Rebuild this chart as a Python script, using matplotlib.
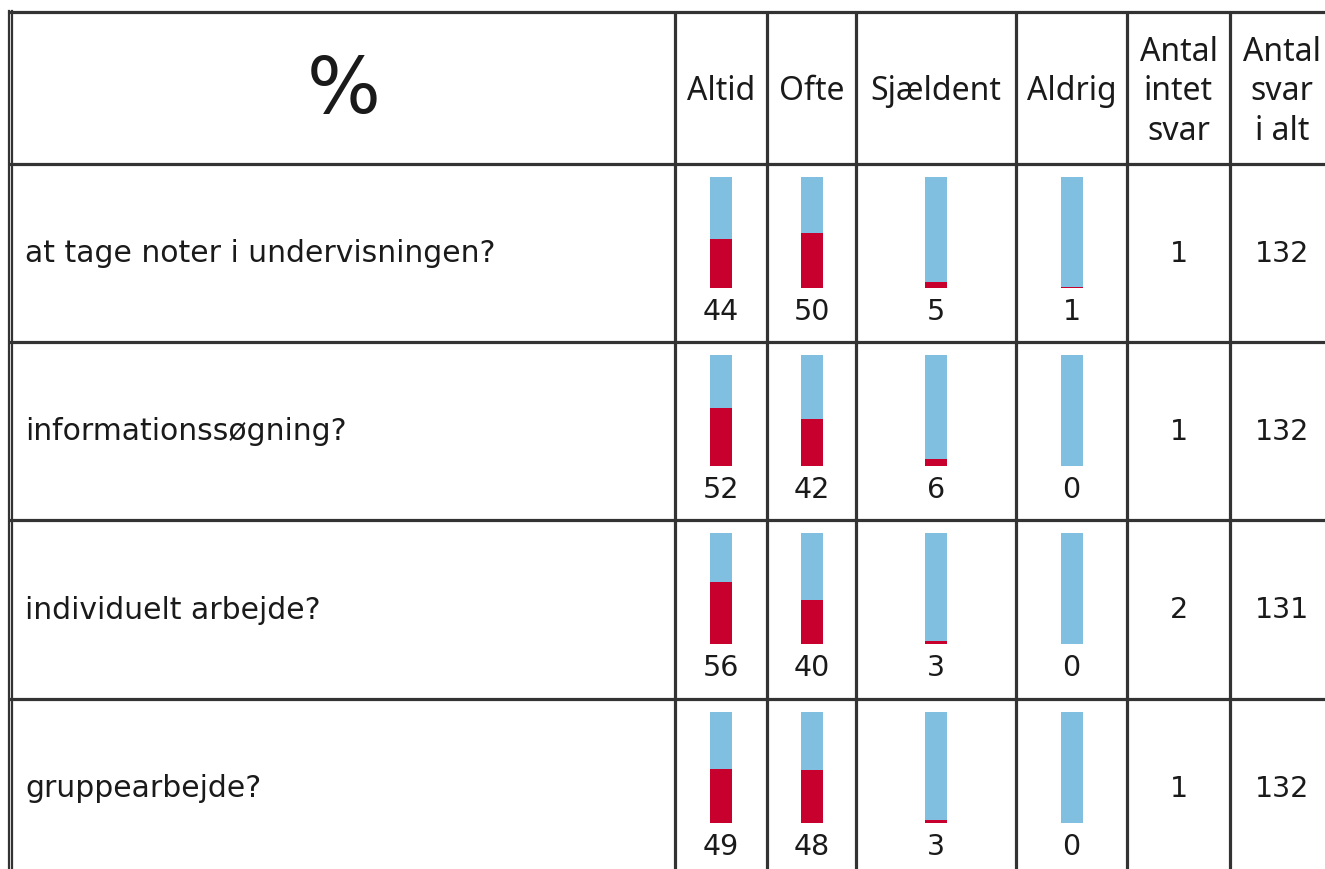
import numpy as np
from matplotlib import pyplot as plt

# data
questions = ['at tage noter i undervisningen?', 'informationssøgning?',
             'individuelt arbejde?', 'gruppearbejde?']
answer_cols = ['Altid', 'Ofte', 'Sjældent', 'Aldrig']
pct = np.array([[44, 50, 5, 1],
                [52, 42, 6, 0],
                [56, 40, 3, 0],
                [49, 48, 3, 0]])
no_answer = [1, 1, 2, 1]
total = [132, 132, 131, 132]
header_extra = ['Antal\nintet\nsvar', 'Antal\nsvar\ni alt']

# layout in pixels
W, H = 1325, 870
col_edges = [11, 675, 767, 856, 1016, 1127, 1230, 1340]
row_edges = [13, 165, 343, 521, 700, 878]
line_col = '#333333'
txt_col = '#1a1a1a'
blue = '#80bfe0'
red = '#c8002e'

fig = plt.figure(figsize=(W / 100, H / 100), dpi=100)
ax = fig.add_axes([0, 0, 1, 1])
ax.set_xlim(0, W)
ax.set_ylim(H, 0)
ax.axis('off')

# grid
lw = 2.3
for y in row_edges:
    ax.plot([8, W], [y, y], color=line_col, lw=lw, solid_capstyle='butt')
for x in col_edges[1:-1]:
    ax.plot([x, x], [row_edges[0], H], color=line_col, lw=lw, solid_capstyle='butt')
# double outer left border
ax.plot([8.5, 8.5], [12, H], color=line_col, lw=1.6)
ax.plot([11.5, 11.5], [12, H], color=line_col, lw=1.6)

# header
hy = (row_edges[0] + row_edges[1]) / 2
ax.text((col_edges[0] + col_edges[1]) / 2 + 1, hy + 2, '%', fontsize=56,
        ha='center', va='center', color=txt_col, family='DejaVu Sans')
cx = [(col_edges[i] + col_edges[i + 1]) / 2 for i in range(len(col_edges) - 1)]
hfs = 23
for i, lab in enumerate(answer_cols):
    ax.text(cx[i + 1], hy + 3, lab, fontsize=hfs, ha='center', va='center',
            color=txt_col, family='Noto Sans')
ax.text(cx[5], hy + 3, header_extra[0], fontsize=hfs, ha='center', va='center',
        color=txt_col, family='Noto Sans', linespacing=1.27)
ax.text(1282, hy + 3, header_extra[1], fontsize=hfs, ha='center', va='center',
        color=txt_col, family='Noto Sans', linespacing=1.27)

# rows
nfs = 20.5
for r, q in enumerate(questions):
    top = row_edges[r + 1]
    yc = (top + row_edges[r + 2]) / 2
    ax.text(25, yc, q, fontsize=21.5, ha='left', va='center', color=txt_col)
    for c in range(4):
        x0 = cx[c + 1] - 11
        gx = fig.add_axes([x0 / W, 1 - (top + 124) / H, 22 / W, 111 / H])
        gx.bar(0, 100, width=1, color=blue)
        gx.bar(0, pct[r, c], width=1, color=red)
        gx.set_xlim(-0.5, 0.5)
        gx.set_ylim(0, 100)
        gx.axis('off')
        ax.text(cx[c + 1], top + 147, str(pct[r, c]), fontsize=nfs,
                ha='center', va='center', color=txt_col)
    ax.text(cx[5], yc, str(no_answer[r]), fontsize=nfs, ha='center',
            va='center', color=txt_col)
    ax.text(1282, yc, str(total[r]), fontsize=nfs, ha='center',
            va='center', color=txt_col)

plt.savefig('out.png', dpi=100)
